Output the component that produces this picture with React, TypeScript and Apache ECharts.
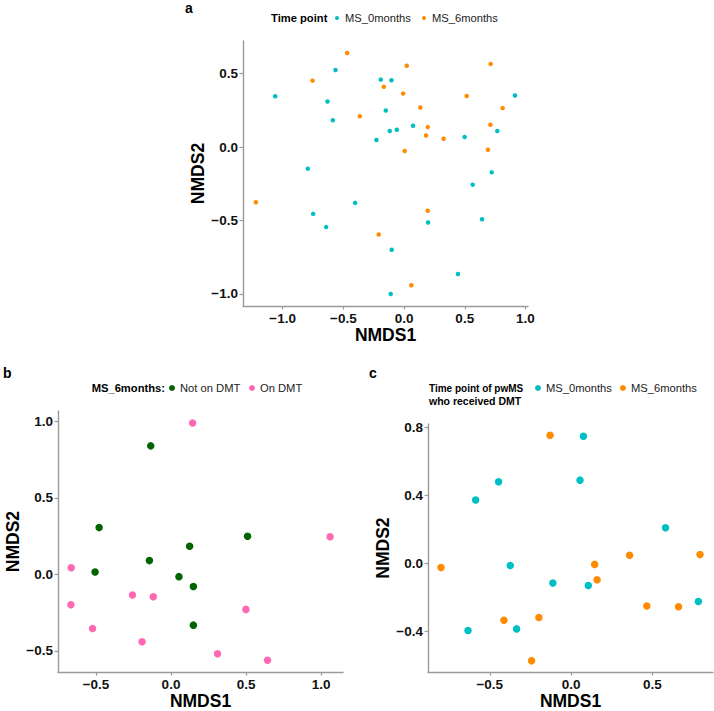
import React, { useEffect, useRef } from "react";
import * as echarts from "echarts";

// Panel a: Time point
const aMS0x = [-1.062, -0.565, -0.631, -0.587, -0.192, -0.104, -0.151, -0.118, -0.06, -0.228, 0.074, 0.499, 0.768, 0.914, -0.793, -0.403, -0.749, -0.642, 0.198, 0.565, 0.722, 0.642, -0.102, 0.444, -0.11];
const aMS0y = [0.346, 0.525, 0.31, 0.183, 0.459, 0.455, 0.249, 0.109, 0.118, 0.048, 0.145, 0.068, 0.109, 0.351, -0.147, -0.38, -0.455, -0.545, -0.514, -0.256, -0.172, -0.491, -0.699, -0.864, -1.0];
const aMS6x = [-1.221, -0.754, -0.469, -0.365, -0.167, 0.022, -0.008, 0.134, 0.195, 0.181, 0.326, 0.005, 0.516, 0.713, 0.812, 0.711, 0.691, 0.195, -0.209, 0.06];
const aMS6y = [-0.376, 0.452, 0.64, 0.21, 0.41, 0.554, 0.364, 0.269, 0.136, 0.079, 0.057, -0.027, 0.348, 0.566, 0.265, 0.152, -0.018, -0.434, -0.595, -0.941];

// Panel b: MS_6months DMT status
const bNotx = [-0.135, -0.479, 0.51, 0.124, -0.144, -0.506, 0.053, 0.149, 0.149];
const bNoty = [0.84, 0.306, 0.249, 0.184, 0.09, 0.015, -0.015, -0.079, -0.332];
const bOnx = [0.144, 1.06, -0.665, -0.667, -0.257, -0.118, -0.523, -0.193, 0.499, 0.31, 0.643];
const bOny = [0.99, 0.246, 0.043, -0.199, -0.135, -0.146, -0.354, -0.441, -0.229, -0.519, -0.561];

// Panel c: pwMS who received DMT
const cMS0x = [0.076, 0.055, -0.446, -0.587, 0.581, -0.374, -0.112, 0.106, 0.783, -0.634, -0.335];
const cMS0y = [0.747, 0.489, 0.479, 0.372, 0.209, -0.013, -0.115, -0.13, -0.224, -0.395, -0.385];
const cMS6x = [-0.129, -0.8, 0.145, 0.16, 0.36, 0.793, 0.466, 0.661, -0.413, -0.198, -0.243];
const cMS6y = [0.753, -0.025, -0.006, -0.096, 0.048, 0.052, -0.251, -0.255, -0.335, -0.318, -0.573];

const aXTicks = [-1, -0.5, 0, 0.5, 1];
const aYTicks = [-1, -0.5, 0, 0.5];
const bXTicks = [-0.5, 0, 0.5, 1];
const bYTicks = [-0.5, 0, 0.5, 1];
const cXTicks = [-0.5, 0, 0.5];
const cYTicks = [-0.4, 0, 0.4, 0.8];

const CYAN = "#00BFC4";
const ORANGE = "#FF8C00";
const GREEN = "#006400";
const PINK = "#FF69B4";
const AXIS = "#9a9a9a";
const FONT = "'Liberation Sans', Arial, Helvetica, sans-serif";

const zip = (xs: number[], ys: number[]) => xs.map((x, i) => [x, ys[i]]);
const fmt = (v: number) => (v < 0 ? "\u2212" + Math.abs(v).toFixed(1) : v.toFixed(1));

function axis(gridIndex: number, min: number, max: number, ticks: number[], name: string, isX: boolean) {
  return {
    type: "value",
    gridIndex,
    min,
    max,
    name,
    nameLocation: "middle",
    nameGap: isX ? 19 : 34,
    nameTextStyle: { fontSize: 17.5, fontWeight: "bold", color: "#000", fontFamily: FONT },
    axisLine: { show: true, onZero: false, lineStyle: { color: AXIS, width: 1.4 } },
    axisTick: { show: true, length: 3.5, customValues: ticks, lineStyle: { color: AXIS, width: 1.2 } },
    axisLabel: {
      show: true,
      customValues: ticks,
      formatter: fmt,
      margin: 5,
      fontSize: 13.5,
      fontWeight: "bold",
      color: "#111",
      fontFamily: FONT,
    },
    splitLine: { show: false },
  };
}

type Item = { x: number; color: string; label: string; r: number };

function legendGraphics(title: { text: string; size: number }[], titleX: number, y: number, items: Item[], titleAlign: string) {
  const els: any[] = [];
  title.forEach((t, i) => {
    els.push({
      type: "text",
      x: titleX,
      y: y + i * 13,
      style: { text: t.text, fill: "#000", font: `bold ${t.size}px ${FONT}`, textAlign: titleAlign, textVerticalAlign: "middle" },
    });
  });
  items.forEach((it) => {
    els.push({ type: "circle", shape: { cx: it.x, cy: y, r: it.r }, style: { fill: it.color } });
    els.push({
      type: "text",
      x: it.x + 8,
      y,
      style: { text: it.label, fill: "#222", font: `11.2px ${FONT}`, textAlign: "left", textVerticalAlign: "middle" },
    });
  });
  return els;
}

export default function App() {
  const ref = useRef<HTMLDivElement>(null);
  useEffect(() => {
    if (!ref.current) return;
    const chart = echarts.init(ref.current, undefined, { renderer: "svg" });
    const graphic: any[] = [
      { type: "text", x: 185, y: 8, style: { text: "a", fill: "#000", font: `bold 14px ${FONT}`, textVerticalAlign: "middle" } },
      { type: "text", x: 3, y: 373, style: { text: "b", fill: "#000", font: `bold 14px ${FONT}`, textVerticalAlign: "middle" } },
      { type: "text", x: 369, y: 373, style: { text: "c", fill: "#000", font: `bold 14px ${FONT}`, textVerticalAlign: "middle" } },
      ...legendGraphics([{ text: "Time point", size: 11.2 }], 271, 18, [
        { x: 337, color: CYAN, label: "MS_0months", r: 2 },
        { x: 424, color: ORANGE, label: "MS_6months", r: 2 },
      ], "left"),
      ...legendGraphics([{ text: "MS_6months:", size: 11.2 }], 165, 388, [
        { x: 172, color: GREEN, label: "Not on DMT", r: 3 },
        { x: 252, color: PINK, label: "On DMT", r: 3 },
      ], "right"),
      ...legendGraphics([{ text: "Time point of pwMS", size: 10 }, { text: "who received DMT", size: 10.5 }], 429, 388, [
        { x: 538, color: CYAN, label: "MS_0months", r: 3 },
        { x: 623, color: ORANGE, label: "MS_6months", r: 3 },
      ], "left"),
    ];
    chart.setOption({
      animation: false,
      backgroundColor: "#fff",
      textStyle: { fontFamily: FONT },
      grid: [
        { left: 243, top: 41, width: 285, height: 265 },
        { left: 58, top: 411, width: 285, height: 265 },
        { left: 428, top: 424, width: 285, height: 252 },
      ],
      xAxis: [
        axis(0, -1.327, 1.021, aXTicks, "NMDS1", true),
        axis(1, -0.753, 1.146, bXTicks, "NMDS1", true),
        axis(2, -0.88, 0.873, cXTicks, "NMDS1", true),
      ],
      yAxis: [
        axis(0, -1.082, 0.722, aYTicks, "NMDS2", false),
        axis(1, -0.639, 1.068, bYTicks, "NMDS2", false),
        axis(2, -0.639, 0.819, cYTicks, "NMDS2", false),
      ],
      series: [
        { type: "scatter", name: "MS_0months", xAxisIndex: 0, yAxisIndex: 0, data: zip(aMS0x, aMS0y), symbolSize: 4.5, itemStyle: { color: CYAN, opacity: 1 } },
        { type: "scatter", name: "MS_6months", xAxisIndex: 0, yAxisIndex: 0, data: zip(aMS6x, aMS6y), symbolSize: 4.5, itemStyle: { color: ORANGE, opacity: 1 } },
        { type: "scatter", name: "Not on DMT", xAxisIndex: 1, yAxisIndex: 1, data: zip(bNotx, bNoty), symbolSize: 7.5, itemStyle: { color: GREEN, opacity: 1 } },
        { type: "scatter", name: "On DMT", xAxisIndex: 1, yAxisIndex: 1, data: zip(bOnx, bOny), symbolSize: 7.5, itemStyle: { color: PINK, opacity: 1 } },
        { type: "scatter", name: "MS_0months (DMT)", xAxisIndex: 2, yAxisIndex: 2, data: zip(cMS0x, cMS0y), symbolSize: 7.5, itemStyle: { color: CYAN, opacity: 1 } },
        { type: "scatter", name: "MS_6months (DMT)", xAxisIndex: 2, yAxisIndex: 2, data: zip(cMS6x, cMS6y), symbolSize: 7.5, itemStyle: { color: ORANGE, opacity: 1 } },
      ],
      graphic,
    });
    return () => chart.dispose();
  }, []);
  return <div ref={ref} style={{ position: "absolute", left: 0, top: 0, width: 714, height: 711 }} />;
}
